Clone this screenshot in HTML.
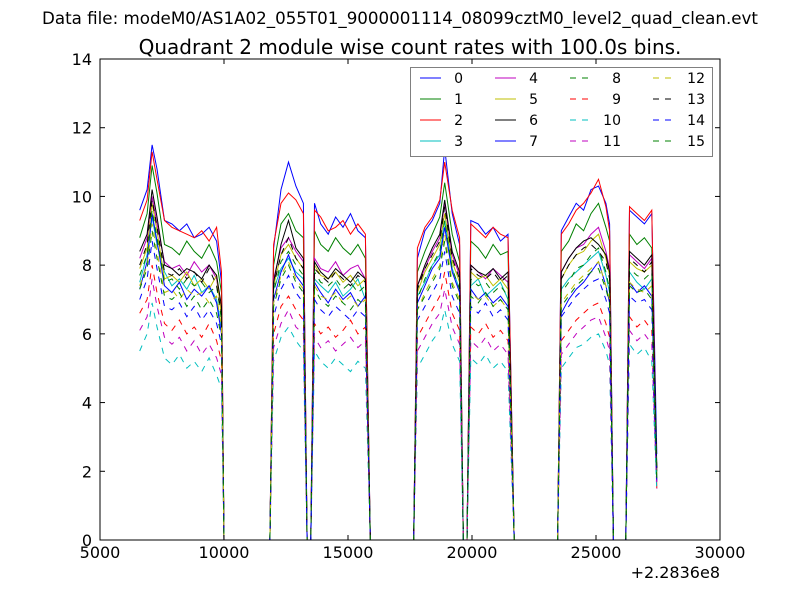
<!DOCTYPE html>
<html><head><meta charset="utf-8"><style>
body{margin:0;background:#fff;}
svg{display:block;font-family:"DejaVu Sans","Liberation Sans",sans-serif;}
</style></head><body>
<svg id="chart" width="800" height="600">
<rect width="800" height="600" fill="#fff"/>
<text x="400" y="24" text-anchor="middle" font-size="16.7">Data file: modeM0/AS1A02_055T01_9000001114_08099cztM0_level2_quad_clean.evt</text>
<text x="410" y="54" text-anchor="middle" font-size="20">Quadrant 2 module wise count rates with 100.0s bins.</text>
<g id="plot"></g>
<g id="axes"></g>
<g id="legend"></g>
</svg>
<script>
const times=[6600,6900,7100,7300,7600,7900,8200,8500,8800,9100,9400,9700,9900,10000,11850,
12000,12300,12600,12900,13200,13350,13500,
13650,13900,14200,14500,14800,15100,15400,15700,15900,17650,
17800,18100,18400,18700,18900,19200,19500,19650,19800,
19950,20250,20550,20850,21150,21450,21700,23450,
23600,23900,24200,24500,24800,25100,25400,25550,25700,26200,
26350,26650,26950,27250,27450];
const s0=[9.6,10.2,11.5,10.8,9.3,9.2,9.0,9.2,8.8,8.9,9.1,8.7,7.5,0,0,8.5,10.2,11.0,10.3,9.8,0,0,9.8,9.2,8.9,9.4,9.1,9.5,9.0,8.8,0,0,8.2,9.0,9.3,9.8,11.4,9.5,8.6,0,0,9.3,9.2,8.9,9.1,8.7,8.9,0,0,9.0,9.4,9.8,9.6,10.2,10.3,9.8,9.2,0,0,9.6,9.4,9.2,9.5,2.5];
const s1=[8.8,9.5,10.9,10.1,8.6,8.5,8.3,8.7,8.4,8.2,8.6,8.1,7.2,0,0,8.0,9.2,9.5,9.0,8.8,0,0,9.0,8.6,8.4,8.8,8.5,8.3,8.6,8.2,0,0,7.8,8.4,8.9,9.4,10.4,8.9,8.1,0,0,8.7,8.5,8.2,8.6,8.3,8.4,0,0,8.4,8.7,9.2,9.0,9.5,9.8,9.1,8.7,0,0,8.9,8.6,8.8,8.5,2.0];
const s2=[9.3,9.9,11.3,10.5,9.3,9.1,9.0,8.9,8.8,9.0,8.7,9.1,7.8,0,0,8.6,9.8,10.1,9.9,9.5,0,0,9.6,9.4,9.0,9.1,9.3,8.9,9.2,8.9,0,0,8.5,9.1,9.4,9.9,11.0,9.6,8.8,0,0,9.2,9.0,8.8,9.1,8.9,8.8,0,0,8.9,9.2,9.6,9.8,10.1,10.5,9.7,9.0,0,0,9.7,9.5,9.3,9.6,1.5];
const s3=[7.5,8.3,9.4,8.6,7.8,7.4,7.6,7.3,7.7,7.2,7.4,7.0,6.2,0,0,7.3,7.9,8.2,7.8,7.6,0,0,7.6,7.4,7.2,7.5,7.1,7.3,7.6,7.0,0,0,7.1,7.5,8.0,8.3,9.3,7.9,7.3,0,0,7.4,7.6,7.1,7.3,7.5,7.0,0,0,7.3,7.6,7.8,8.0,8.2,8.4,7.7,7.2,0,0,7.8,7.5,7.3,7.6,1.8];
const s4=[8.2,8.8,10.0,9.2,8.1,7.9,8.0,7.7,8.1,7.8,8.0,7.6,6.6,0,0,7.6,8.5,8.8,8.4,8.1,0,0,8.2,7.9,7.8,8.1,7.7,7.9,8.0,7.6,0,0,7.4,7.9,8.4,8.8,9.8,8.3,7.7,0,0,8.0,7.8,7.6,7.9,7.7,7.5,0,0,7.8,8.2,8.5,8.6,8.9,9.1,8.4,7.9,0,0,8.3,8.1,7.9,8.2,2.0];
const s5=[7.9,8.5,9.8,9.0,7.6,7.7,7.5,7.8,7.4,7.6,7.3,7.7,6.5,0,0,7.4,8.3,8.6,8.2,7.9,0,0,8.0,7.7,7.6,7.8,7.5,7.7,7.4,7.6,0,0,7.2,7.8,8.2,8.6,9.5,8.1,7.5,0,0,7.8,7.6,7.7,7.4,7.6,7.3,0,0,7.6,8.0,8.3,8.4,8.7,8.9,8.2,7.7,0,0,8.1,7.9,7.8,8.0,1.9];
const s6=[8.4,8.9,10.2,9.4,8.0,7.9,7.7,7.9,7.8,7.6,8.0,7.7,6.8,0,0,7.5,8.6,9.3,8.5,8.2,0,0,8.1,7.8,7.6,7.9,7.7,7.5,7.8,7.6,0,0,7.4,8.0,8.5,8.9,9.9,8.4,7.8,0,0,8.0,7.8,7.7,7.9,7.6,7.8,0,0,7.8,8.2,8.5,8.7,8.8,8.6,8.3,7.8,0,0,8.4,8.2,8.0,8.3,2.1];
const s7=[7.3,8.1,9.5,8.7,7.4,7.2,7.5,7.0,7.3,7.1,7.4,6.9,6.0,0,0,7.0,7.8,8.3,7.7,7.4,0,0,7.5,7.2,6.9,7.3,7.0,7.2,6.8,7.1,0,0,6.9,7.4,7.9,8.2,9.1,7.8,7.2,0,0,7.3,7.0,7.2,6.9,7.1,6.8,0,0,6.6,7.0,7.3,7.5,7.8,8.1,7.4,6.9,0,0,7.5,7.2,7.4,7.1,1.7];
const s8=[7.7,8.3,9.6,8.8,7.5,7.6,7.3,7.6,7.4,7.5,7.2,7.4,6.4,0,0,7.2,8.1,8.4,8.0,7.7,0,0,7.8,7.5,7.4,7.6,7.3,7.5,7.2,7.4,0,0,7.0,7.6,8.0,8.4,9.3,7.9,7.3,0,0,7.6,7.4,7.5,7.2,7.4,7.1,0,0,7.2,7.5,7.9,8.0,8.3,8.5,7.8,7.3,0,0,7.9,7.7,7.6,7.8,1.8];
const s9=[6.6,7.0,8.0,7.2,6.3,6.1,6.4,6.0,6.2,5.9,6.3,5.8,5.2,0,0,6.0,6.8,7.1,6.7,6.4,0,0,6.3,6.0,6.2,5.9,6.1,6.4,6.0,6.2,0,0,5.9,6.3,6.7,7.1,7.8,6.6,6.1,0,0,6.2,6.0,6.3,5.9,6.1,5.8,0,0,5.8,6.1,6.4,6.6,6.8,6.9,6.3,5.9,0,0,6.5,6.2,6.4,6.1,1.6];
const s10=[5.5,6.0,6.9,6.2,5.3,5.1,5.4,5.0,5.2,4.9,5.3,4.8,4.4,0,0,5.2,5.9,6.2,5.8,5.5,0,0,5.5,5.2,5.0,5.3,5.1,4.9,5.2,5.0,0,0,5.0,5.4,5.8,6.1,6.7,5.7,5.2,0,0,5.3,5.1,5.4,5.0,5.2,4.9,0,0,5.0,5.3,5.6,5.7,5.9,6.0,5.5,5.1,0,0,5.7,5.4,5.6,5.2,1.4];
const s11=[6.1,6.5,7.6,6.8,5.9,5.7,5.9,5.5,5.8,5.4,5.7,5.3,4.8,0,0,5.6,6.3,6.7,6.2,6.0,0,0,5.9,5.6,5.8,5.5,5.7,5.9,5.6,5.8,0,0,5.5,5.9,6.3,6.6,7.3,6.2,5.7,0,0,5.8,5.6,5.9,5.5,5.7,5.4,0,0,5.4,5.7,6.0,6.2,6.4,6.5,5.9,5.5,0,0,6.1,5.8,6.0,5.7,1.5];
const s12=[7.4,8.0,9.2,8.4,7.2,7.3,7.0,7.3,7.1,7.2,6.9,7.1,6.2,0,0,6.9,7.7,8.1,7.6,7.3,0,0,7.4,7.1,7.0,7.2,6.9,7.1,6.8,7.0,0,0,6.7,7.2,7.6,8.0,8.9,7.5,7.0,0,0,7.2,7.0,7.1,6.8,7.0,6.7,0,0,6.9,7.2,7.5,7.7,7.9,8.1,7.4,7.0,0,0,7.5,7.3,7.2,7.4,1.7];
const s13=[8.0,8.6,9.9,9.1,7.8,7.7,7.9,7.6,7.8,7.5,7.9,7.4,6.6,0,0,7.4,8.3,8.8,8.2,7.9,0,0,7.9,7.7,7.5,7.8,7.6,7.4,7.7,7.5,0,0,7.3,7.9,8.3,8.7,9.7,8.2,7.6,0,0,7.9,7.7,7.6,7.8,7.5,7.7,0,0,7.6,8.0,8.3,8.5,8.6,8.4,8.1,7.6,0,0,8.2,8.0,7.8,8.1,2.0];
const s14=[7.0,7.6,8.7,7.9,6.8,6.7,6.9,6.5,6.8,6.4,6.7,6.3,5.7,0,0,6.5,7.3,7.7,7.2,6.9,0,0,7.0,6.7,6.5,6.8,6.6,6.4,6.7,6.5,0,0,6.4,6.8,7.2,7.6,8.4,7.1,6.6,0,0,6.8,6.6,6.9,6.5,6.7,6.4,0,0,6.5,6.8,7.1,7.3,7.5,7.6,7.0,6.6,0,0,7.1,6.9,7.0,6.7,1.6];
const s15=[7.3,7.9,9.0,8.2,7.1,7.0,7.2,6.8,7.1,6.7,7.0,6.6,5.9,0,0,6.8,7.6,8.0,7.5,7.2,0,0,7.3,7.0,6.8,7.1,6.9,6.7,7.0,6.8,0,0,6.7,7.1,7.5,7.9,8.7,7.4,6.9,0,0,7.1,6.9,7.2,6.8,7.0,6.7,0,0,6.8,7.1,7.4,7.6,7.8,7.9,7.3,6.9,0,0,7.4,7.2,7.3,7.0,1.7];
const seriesNames=["0","1","2","3","4","5","6","7","8","9","10","11","12","13","14","15"];
const xTicks=[5000,10000,15000,20000,25000,30000];
const yTicks=[0,2,4,6,8,10,12,14];

const allSeries=[s0,s1,s2,s3,s4,s5,s6,s7,s8,s9,s10,s11,s12,s13,s14,s15];
const colors=["#0000ff","#008000","#ff0000","#00bfbf","#bf00bf","#bfbf00","#000000","#0000ff","#008000","#ff0000","#00bfbf","#bf00bf","#bfbf00","#000000","#0000ff","#008000"];
const L=100,R=720,T=59,B=540,X0=5000,X1=30000,Y0=0,Y1=14;
const xs=v=>L+(v-X0)/(X1-X0)*(R-L);
const ys=v=>B-(v-Y0)/(Y1-Y0)*(B-T);
const NS="http://www.w3.org/2000/svg";
function mk(tag,attrs,parent){const e=document.createElementNS(NS,tag);for(const k in attrs)e.setAttribute(k,attrs[k]);parent.appendChild(e);return e;}
const plot=document.getElementById('plot'),axes=document.getElementById('axes'),leg=document.getElementById('legend');
mk('defs',{},plot).innerHTML='<clipPath id="clip"><rect x="100" y="59" width="620" height="482"/></clipPath>';
const pg=mk('g',{'clip-path':'url(#clip)'},plot);
allSeries.forEach((s,i)=>{
  const d=s.map((v,j)=>(j?'L':'M')+xs(times[j]).toFixed(1)+','+ys(v).toFixed(1)).join('');
  const p=mk('path',{d:d,fill:'none',stroke:colors[i],'stroke-width':1,'stroke-dasharray':i>=8?'6,6':'none'},pg);
  
  
});
const frame=mk('rect',{x:L,y:T,width:R-L,height:B-T,fill:'none',stroke:'#000','stroke-width':1},axes);


xTicks.forEach(t=>{
  const x=xs(t);
  mk('line',{x1:x,y1:B,x2:x,y2:B-5,stroke:'#000'},axes);
  mk('line',{x1:x,y1:T,x2:x,y2:T+5,stroke:'#000'},axes);
  const tx=mk('text',{x:x,y:B+18,'text-anchor':'middle','font-size':16},axes);
  tx.textContent=t;
  
  
});
yTicks.forEach(t=>{
  const y=ys(t);
  mk('line',{x1:L,y1:y,x2:L+5,y2:y,stroke:'#000'},axes);
  mk('line',{x1:R,y1:y,x2:R-5,y2:y,stroke:'#000'},axes);
  const tx=mk('text',{x:L-8,y:y+6,'text-anchor':'end','font-size':16},axes);
  tx.textContent=t;
  
  
});
const off=mk('text',{x:720,y:578,'text-anchor':'end','font-size':16},axes);
off.textContent='+2.2836e8';


const box=mk('rect',{x:410.5,y:67.5,width:302,height:89,fill:'#fff',stroke:'#808080','stroke-width':1},leg);


const colLine=[420,495,570,653],colText=[463,538,621,705];
seriesNames.forEach((n,i)=>{
  const c=Math.floor(i/4),r=i%4,y=78+r*21;
  const g=mk('g',{},leg);
  
  
  mk('line',{x1:colLine[c],y1:y,x2:colLine[c]+21,y2:y,stroke:colors[i],'stroke-width':1,'stroke-dasharray':i>=8?'6,6':'none'},g);
  const t=mk('text',{x:colText[c],y:y+5,'text-anchor':'end','font-size':14},g);
  t.textContent=n;
});
</script>
</body></html>
